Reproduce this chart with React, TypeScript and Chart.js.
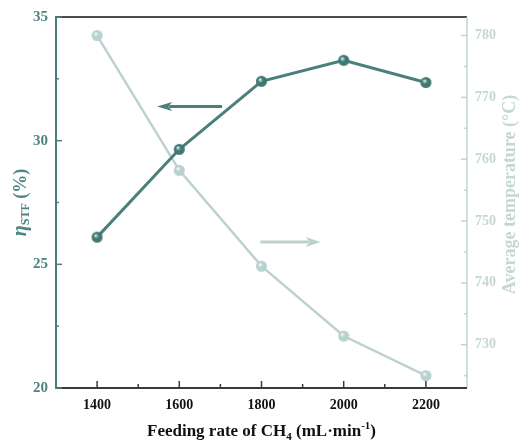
import { useEffect, useRef } from "react";
import { Chart, registerables } from "chart.js";
Chart.register(...registerables);

const feedRates = [1400, 1600, 1800, 2000, 2200];
const efficiency = [26.1, 29.65, 32.4, 33.25, 32.35];
const avgTemp = [780, 758.2, 742.7, 731.4, 725.0];
const xTicks = [1400, 1600, 1800, 2000, 2200];
const xMinor = [1500, 1700, 1900, 2100];
const leftTicks = [20, 25, 30, 35];
const leftMinor = [22.5, 27.5, 32.5];
const rightTicks = [730, 740, 750, 760, 770, 780];
const rightMinor = [725, 735, 745, 755, 765, 775];
const effArrowX = [1704, 1546];
const effArrowY = 31.38;
const tempArrowX = [1797, 1944];
const tempArrowY = 746.6;

const FF = '"Liberation Serif", "Times New Roman", serif';
const DARK = "#4a7f7c";
const LIGHT = "#bcd2d0";
const LEFT_TXT = "#4d8582";
const RIGHT_TXT = "#c5d8d6";

function makeSphere(r: number, base: string, hi: string) {
  const s = 2 * r + 2;
  const c = document.createElement("canvas");
  c.width = s;
  c.height = s;
  const g = c.getContext("2d")!;
  const grad = g.createRadialGradient(s / 2 - r * 0.3, s / 2 - r * 0.35, r * 0.05, s / 2, s / 2, r);
  grad.addColorStop(0, hi);
  grad.addColorStop(0.45, base);
  grad.addColorStop(1, base);
  g.fillStyle = grad;
  g.beginPath();
  g.arc(s / 2, s / 2, r, 0, Math.PI * 2);
  g.fill();
  return c;
}

type Run = { t: string; font: string; dy: number };
function drawRuns(ctx: CanvasRenderingContext2D, runs: Run[], color: string) {
  let total = 0;
  for (const r of runs) {
    ctx.font = r.font;
    total += ctx.measureText(r.t).width;
  }
  let x = -total / 2;
  ctx.fillStyle = color;
  ctx.textBaseline = "alphabetic";
  ctx.textAlign = "left";
  for (const r of runs) {
    ctx.font = r.font;
    ctx.fillText(r.t, x, r.dy);
    x += ctx.measureText(r.t).width;
  }
}

function arrow(ctx: CanvasRenderingContext2D, x0: number, x1: number, y: number, color: string, w: number, hl: number, hw: number) {
  const dir = Math.sign(x1 - x0);
  ctx.strokeStyle = color;
  ctx.fillStyle = color;
  ctx.lineWidth = w;
  ctx.beginPath();
  ctx.moveTo(x0, y);
  ctx.lineTo(x1 - dir * hl * 0.8, y);
  ctx.stroke();
  ctx.beginPath();
  ctx.moveTo(x1, y);
  ctx.lineTo(x1 - dir * hl, y - hw);
  ctx.lineTo(x1 - dir * hl * 0.75, y);
  ctx.lineTo(x1 - dir * hl, y + hw);
  ctx.closePath();
  ctx.fill();
}

const decorPlugin = {
  id: "decor",
  afterDraw(chart: any) {
    const { ctx, chartArea: a, scales } = chart;
    const sx = scales.x, sy = scales.y, sr = scales.y1;
    ctx.save();
    // top border
    ctx.strokeStyle = "#111";
    ctx.lineWidth = 1.5;
    ctx.beginPath();
    ctx.moveTo(a.left, a.top);
    ctx.lineTo(a.right, a.top);
    ctx.stroke();
    // right axis
    ctx.strokeStyle = "#c2d5d4";
    ctx.lineWidth = 1.5;
    ctx.beginPath();
    ctx.moveTo(a.right, a.top);
    ctx.lineTo(a.right, a.bottom);
    ctx.stroke();
    for (const v of rightTicks) {
      const y = sr.getPixelForValue(v);
      ctx.beginPath(); ctx.moveTo(a.right, y); ctx.lineTo(a.right - 6, y); ctx.stroke();
    }
    for (const v of rightMinor) {
      const y = sr.getPixelForValue(v);
      ctx.beginPath(); ctx.moveTo(a.right, y); ctx.lineTo(a.right - 3, y); ctx.stroke();
    }
    // bottom axis
    ctx.strokeStyle = "#3a3a3a";
    ctx.lineWidth = 2;
    ctx.beginPath();
    ctx.moveTo(a.left, a.bottom);
    ctx.lineTo(a.right, a.bottom);
    ctx.stroke();
    ctx.lineWidth = 1.5;
    for (const v of xTicks) {
      const x = sx.getPixelForValue(v);
      ctx.beginPath(); ctx.moveTo(x, a.bottom); ctx.lineTo(x, a.bottom - 7); ctx.stroke();
    }
    for (const v of xMinor) {
      const x = sx.getPixelForValue(v);
      ctx.beginPath(); ctx.moveTo(x, a.bottom); ctx.lineTo(x, a.bottom - 4); ctx.stroke();
    }
    // left axis
    ctx.strokeStyle = DARK;
    ctx.lineWidth = 2;
    ctx.beginPath();
    ctx.moveTo(a.left, a.top - 1);
    ctx.lineTo(a.left, a.bottom + 1);
    ctx.stroke();
    ctx.lineWidth = 1.5;
    for (const v of leftTicks) {
      const y = sy.getPixelForValue(v);
      ctx.beginPath(); ctx.moveTo(a.left, y); ctx.lineTo(a.left + 6, y); ctx.stroke();
    }
    for (const v of leftMinor) {
      const y = sy.getPixelForValue(v);
      ctx.beginPath(); ctx.moveTo(a.left, y); ctx.lineTo(a.left + 3, y); ctx.stroke();
    }
    // arrows
    arrow(ctx, sx.getPixelForValue(effArrowX[0]), sx.getPixelForValue(effArrowX[1]), sy.getPixelForValue(effArrowY), DARK, 3, 15, 4.5);
    arrow(ctx, sx.getPixelForValue(tempArrowX[0]), sx.getPixelForValue(tempArrowX[1]), sr.getPixelForValue(tempArrowY), LIGHT, 3, 15, 5);

    const cy = (a.top + a.bottom) / 2;
    // left title
    ctx.save();
    ctx.translate(26, cy);
    ctx.rotate(-Math.PI / 2);
    drawRuns(ctx, [
      { t: "\u03b7", font: `italic bold 20px ${FF}`, dy: 0 },
      { t: "STF", font: `bold 12px ${FF}`, dy: 3 },
      { t: " (%)", font: `bold 18px ${FF}`, dy: 0 },
    ], LEFT_TXT);
    ctx.restore();
    // right title
    ctx.save();
    ctx.translate(515, cy - 8);
    ctx.rotate(-Math.PI / 2);
    drawRuns(ctx, [{ t: "Average temperature (\u00b0C)", font: `bold 18px ${FF}`, dy: 0 }], RIGHT_TXT);
    ctx.restore();
    // x title
    ctx.save();
    ctx.translate((a.left + a.right) / 2, 436);
    drawRuns(ctx, [
      { t: "Feeding rate of CH", font: `bold 17px ${FF}`, dy: 0 },
      { t: "4", font: `bold 11px ${FF}`, dy: 4 },
      { t: " (mL\u00b7min", font: `bold 17px ${FF}`, dy: 0 },
      { t: "-1", font: `bold 11px ${FF}`, dy: -7 },
      { t: ")", font: `bold 17px ${FF}`, dy: 0 },
    ], "#111");
    ctx.restore();
    ctx.restore();
  },
};

export default function App() {
  const ref = useRef<HTMLCanvasElement>(null);
  useEffect(() => {
    const darkSphere = makeSphere(5.5, "#3f7774", "#e2f0ee");
    const lightSphere = makeSphere(5.5, "#b8d0ce", "#f7fbfb");
    const chart = new Chart(ref.current!, {
      type: "line",
      data: {
        datasets: [
          {
            data: feedRates.map((x, i) => ({ x, y: efficiency[i] })),
            yAxisID: "y",
            borderColor: DARK,
            borderWidth: 3,
            pointStyle: darkSphere as any,
            pointRadius: 5.5,
            tension: 0,
          },
          {
            data: feedRates.map((x, i) => ({ x, y: avgTemp[i] })),
            yAxisID: "y1",
            borderColor: LIGHT,
            borderWidth: 2.5,
            pointStyle: lightSphere as any,
            pointRadius: 5.5,
            tension: 0,
          },
        ],
      },
      options: {
        animation: false,
        responsive: false,
        layout: { padding: { top: 13, left: 0, right: 0, bottom: 0 } },
        plugins: { legend: { display: false }, tooltip: { enabled: false } },
        scales: {
          x: {
            type: "linear",
            min: 1300,
            max: 2300,
            afterBuildTicks: (s: any) => { s.ticks = xTicks.map((v) => ({ value: v })); },
            afterFit: (s: any) => { s.height = 57; },
            grid: { display: false, drawTicks: false },
            border: { display: false },
            ticks: { padding: 9, color: "#111", autoSkip: false, maxRotation: 0, callback: (v: any) => String(v), font: { family: FF, size: 14, weight: "bold" } },
          },
          y: {
            position: "left",
            min: 20,
            max: 35,
            afterBuildTicks: (s: any) => { s.ticks = leftTicks.map((v) => ({ value: v })); },
            afterFit: (s: any) => { s.width = 56; },
            grid: { display: false, drawTicks: false },
            border: { display: false },
            ticks: { padding: 8, color: LEFT_TXT, callback: (v: any) => String(v), font: { family: FF, size: 15, weight: "bold" } },
          },
          y1: {
            position: "right",
            min: 723,
            max: 783,
            afterBuildTicks: (s: any) => { s.ticks = rightTicks.map((v) => ({ value: v })); },
            afterFit: (s: any) => { s.width = 57; },
            grid: { display: false, drawTicks: false },
            border: { display: false },
            ticks: { padding: 8, color: RIGHT_TXT, callback: (v: any) => String(v), font: { family: FF, size: 14, weight: "bold" } },
          },
        },
      } as any,
      plugins: [decorPlugin],
    });
    return () => chart.destroy();
  }, []);
  return (
    <div style={{ position: "absolute", left: 0, top: 0, width: 524, height: 445, background: "#fff" }}>
      <canvas ref={ref} width={524} height={445} style={{ display: "block" }} />
    </div>
  );
}
